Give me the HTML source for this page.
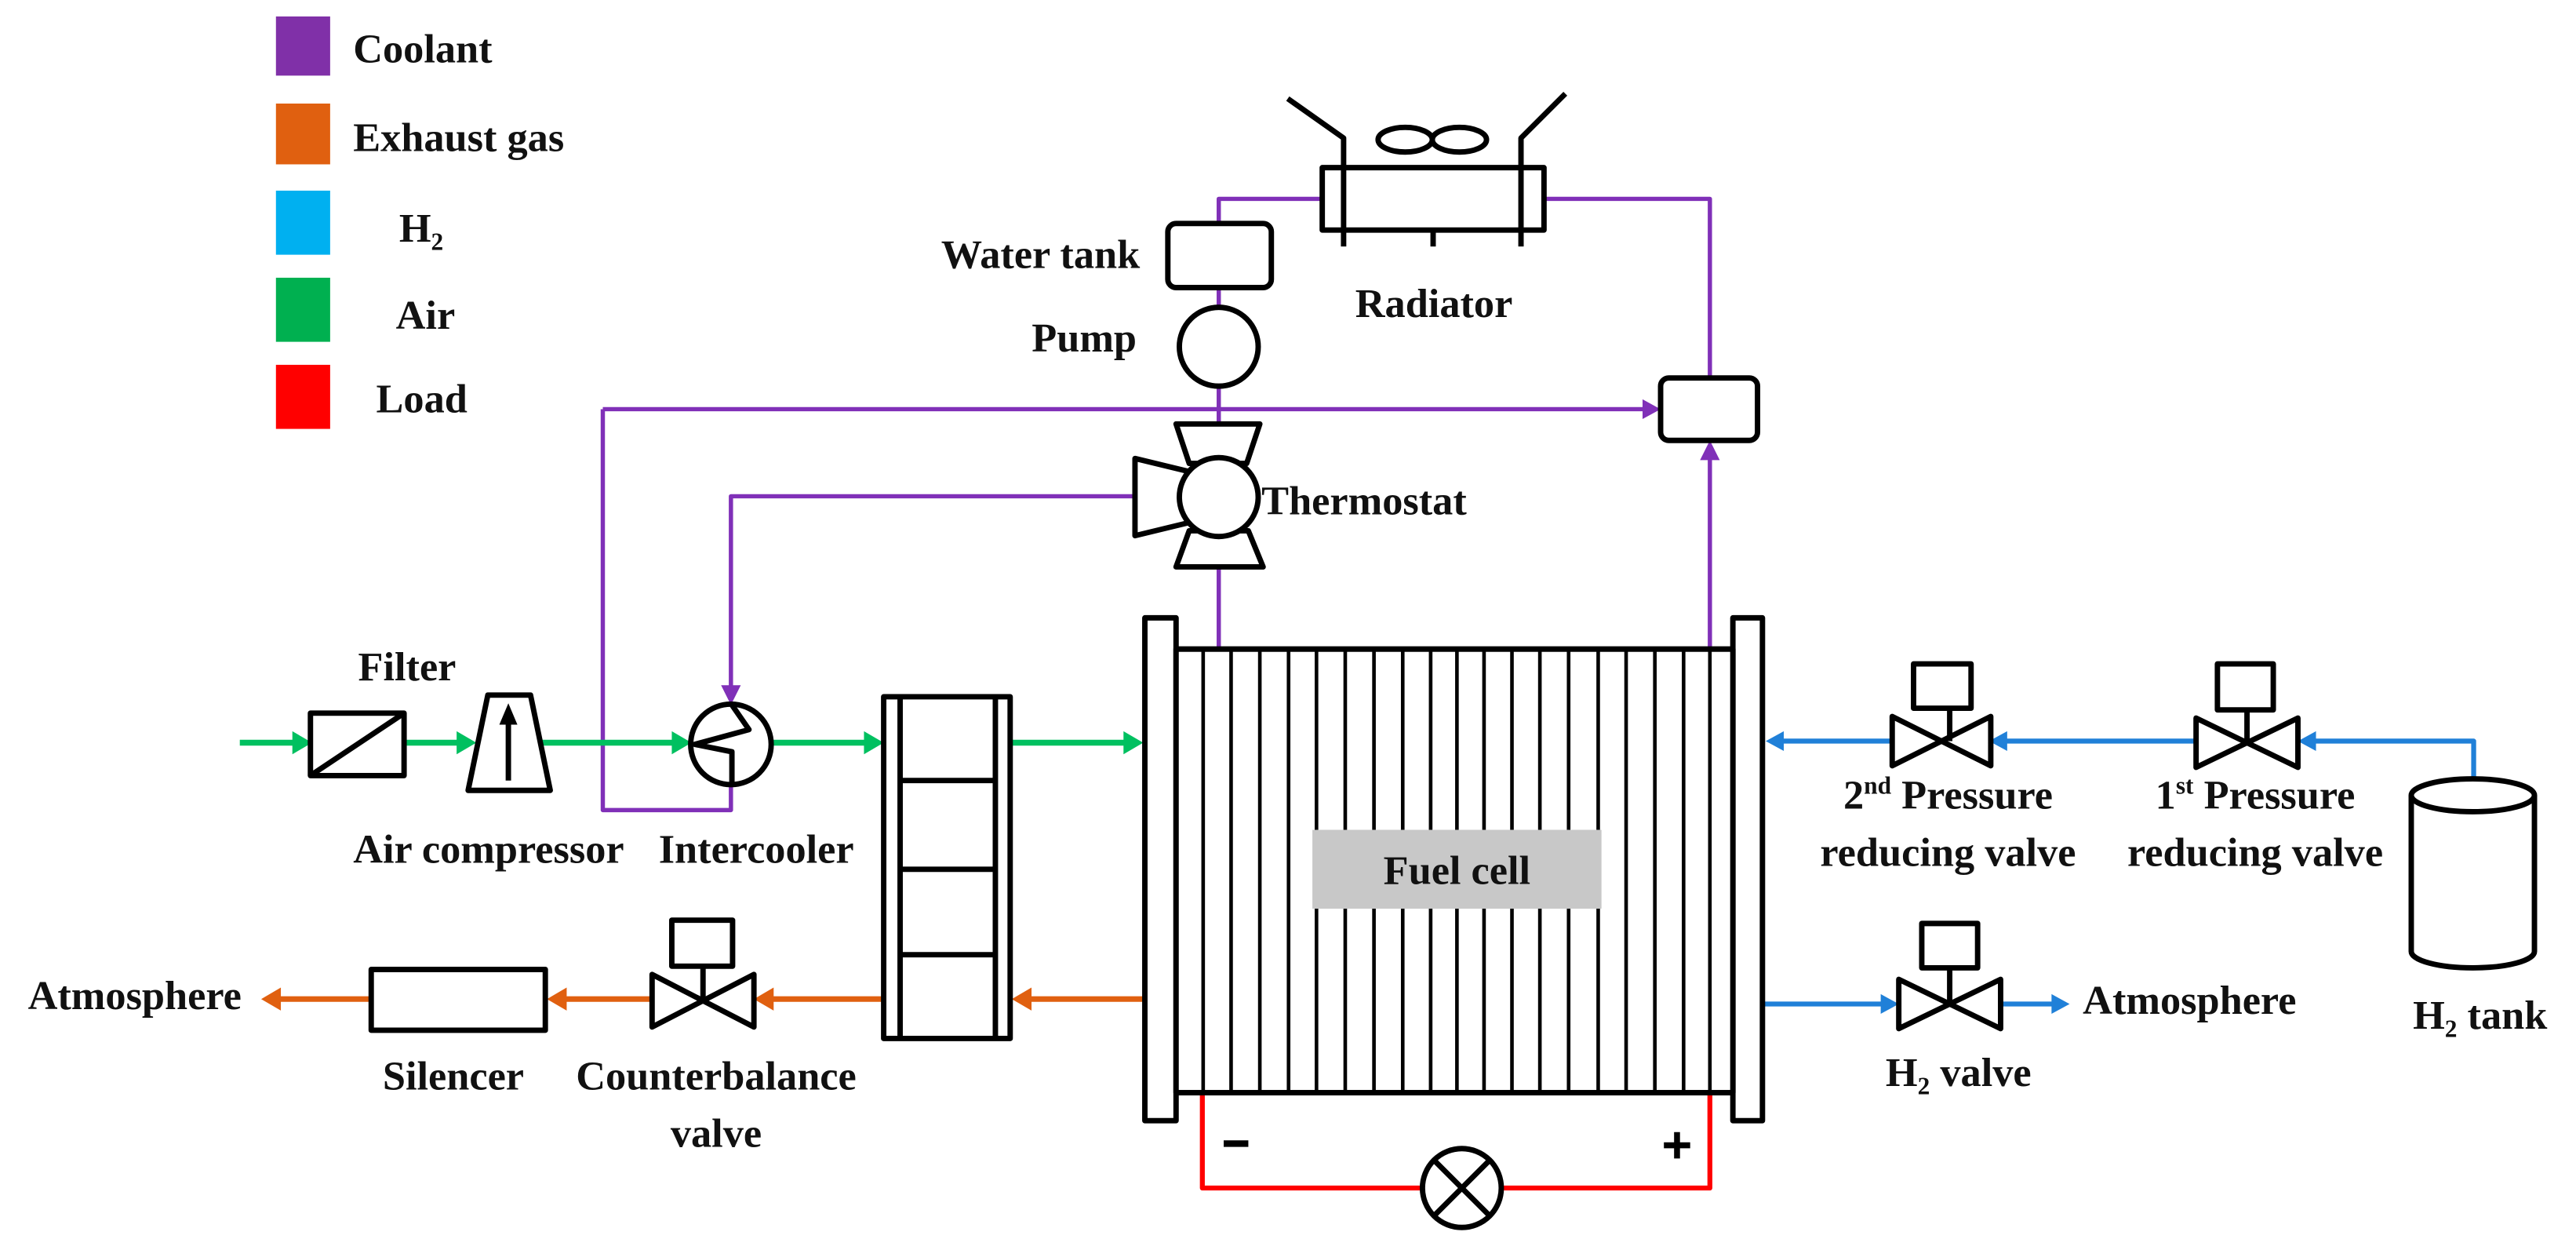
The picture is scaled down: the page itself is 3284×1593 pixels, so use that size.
<!DOCTYPE html>
<html><head><meta charset="utf-8"><style>
html,body{margin:0;padding:0;background:#fff;}
svg{display:block;}
text{font-family:"Liberation Serif",serif;font-weight:bold;font-size:25px;fill:#111;}
</style></head><body>
<svg width="3284" height="1593" viewBox="0 0 1568.3 760.7" xmlns="http://www.w3.org/2000/svg">
<rect width="1568.3" height="760.7" fill="#fff"/>
<!-- legend -->
<rect x="168" y="10" width="33" height="36" fill="#8030a8"/>
<rect x="168" y="63" width="33" height="37" fill="#e06010"/>
<rect x="168" y="116" width="33" height="39" fill="#00b0f0"/>
<rect x="168" y="169" width="33" height="39" fill="#00b050"/>
<rect x="168" y="222" width="33" height="39" fill="#ff0000"/>
<text x="215" y="38">Coolant</text>
<text x="215" y="92">Exhaust gas</text>
<text x="243" y="147">H<tspan font-size="15" dy="5">2</tspan></text>
<text x="241" y="200">Air</text>
<text x="229" y="251">Load</text>

<g fill="none" stroke-linejoin="round">
<g stroke="#8030b8" stroke-width="2.6">
<polyline points="742,395 742,121 805,121"/>
<polyline points="940,121 1041,121 1041,230"/>
<polyline points="1041,395 1041,278"/>
<polyline points="367,249 367,493 445,493 445,478"/>
<polyline points="367,249 1002,249"/>
<polyline points="691,302 445,302 445,421"/>
</g>
<g fill="#8030b8">
<polygon points="1011,249 1000,243 1000,255"/>
<polygon points="1041,268 1035,280 1047,280"/>
<polygon points="445,429 439,417 451,417"/>
</g>
<g stroke="#00c060" stroke-width="3.6">
<line x1="146" y1="452" x2="182" y2="452"/>
<line x1="246" y1="452" x2="280" y2="452"/>
<line x1="330" y1="452" x2="413" y2="452"/>
<line x1="470" y1="452" x2="530" y2="452"/>
<line x1="615" y1="452" x2="688" y2="452"/>
</g>
<g fill="#00c060">
<polygon points="190,452 178,445 178,459"/>
<polygon points="290,452 278,445 278,459"/>
<polygon points="421,452 409,445 409,459"/>
<polygon points="538,452 526,445 526,459"/>
<polygon points="696,452 684,445 684,459"/>
</g>
<g stroke="#e06010" stroke-width="3.4">
<line x1="696" y1="608" x2="624" y2="608"/>
<line x1="537" y1="608" x2="466" y2="608"/>
<line x1="397" y1="608" x2="340" y2="608"/>
<line x1="225" y1="608" x2="166" y2="608"/>
</g>
<g fill="#e06010">
<polygon points="616,608 628,601 628,615"/>
<polygon points="459,608 471,601 471,615"/>
<polygon points="333,608 345,601 345,615"/>
<polygon points="159,608 171,601 171,615"/>
</g>
<g stroke="#2080d8" stroke-width="3">
<polyline points="1506,474 1506,451 1407,451"/>
<line x1="1336" y1="451" x2="1219" y2="451"/>
<line x1="1152" y1="451" x2="1083" y2="451"/>
<line x1="1073" y1="611" x2="1148" y2="611"/>
<line x1="1218" y1="611" x2="1252" y2="611"/>
</g>
<g fill="#2080d8">
<polygon points="1399,451 1410,445 1410,457"/>
<polygon points="1211,451 1222,445 1222,457"/>
<polygon points="1075,451 1086,445 1086,457"/>
<polygon points="1156,611 1145,605 1145,617"/>
<polygon points="1260,611 1249,605 1249,617"/>
</g>
<polyline points="732,665 732,723 866,723" stroke="#ff0000" stroke-width="3"/>
<polyline points="914,723 1041,723 1041,665" stroke="#ff0000" stroke-width="3"/>

<g stroke="#000" stroke-width="3.3">
<rect x="711" y="136" width="63" height="39" rx="5" fill="#fff"/>
<ellipse cx="742" cy="211" rx="24" ry="24" fill="#fff"/>
<rect x="805" y="102" width="135" height="38" fill="#fff"/>
<line x1="818" y1="102" x2="818" y2="150"/>
<line x1="926" y1="102" x2="926" y2="150"/>
<line x1="872.5" y1="140" x2="872.5" y2="150"/>
<polyline points="818,102 818,84 784,60"/>
<polyline points="926,102 926,84 953,57"/>
<ellipse cx="855.5" cy="85" rx="16.5" ry="7.5"/>
<ellipse cx="888.5" cy="85" rx="16.5" ry="7.5"/>
<rect x="1011" y="230" width="59" height="38" rx="5" fill="#fff"/>
<polygon points="716,258 767,258 759,282 724,282" fill="#fff"/>
<polygon points="724,323 760,323 769,345 716,345" fill="#fff"/>
<polygon points="691,279 724,287 724,318 691,326" fill="#fff"/>
<circle cx="742" cy="302.5" r="24" fill="#fff"/>
<rect x="189" y="434" width="57" height="38" fill="#fff"/>
<line x1="189" y1="472" x2="246" y2="434"/>
<polygon points="297,423 323,423 335,481 285,481" fill="#fff"/>
<line x1="309.5" y1="475" x2="309.5" y2="440"/>
<ellipse cx="445" cy="453" rx="24.5" ry="24.5" fill="#fff"/>
<polyline points="445.6,429 456,444 423,453 445.6,457.5 445.6,478"/>
<rect x="538" y="424" width="77" height="208" fill="#fff"/>
<line x1="548" y1="424" x2="548" y2="632"/>
<line x1="606" y1="424" x2="606" y2="632"/>
<line x1="548" y1="475" x2="606" y2="475"/>
<line x1="548" y1="529" x2="606" y2="529"/>
<line x1="548" y1="581" x2="606" y2="581"/>
<polygon points="397,593 459,625 459,593 397,625" fill="#fff"/>
<rect x="409" y="560" width="37" height="28" fill="#fff"/>
<line x1="428" y1="588" x2="428" y2="609"/>
<rect x="226" y="590" width="106" height="37" fill="#fff"/>
<rect x="697" y="376" width="19" height="306" fill="#fff"/>
<rect x="1055" y="376" width="18" height="306" fill="#fff"/>
<rect x="716" y="395" width="339" height="270" fill="#fff"/>
</g>
<polygon points="309.5,428 304,441 315,441" fill="#000"/>
<g stroke="#000" stroke-width="2.2">
<line x1="732.5" y1="395" x2="732.5" y2="665"/><line x1="749.5" y1="395" x2="749.5" y2="665"/>
<line x1="767" y1="395" x2="767" y2="665"/><line x1="784.5" y1="395" x2="784.5" y2="665"/>
<line x1="801.5" y1="395" x2="801.5" y2="665"/><line x1="819" y1="395" x2="819" y2="665"/>
<line x1="836.5" y1="395" x2="836.5" y2="665"/><line x1="854" y1="395" x2="854" y2="665"/>
<line x1="871" y1="395" x2="871" y2="665"/><line x1="887" y1="395" x2="887" y2="665"/>
<line x1="903.5" y1="395" x2="903.5" y2="665"/><line x1="920.5" y1="395" x2="920.5" y2="665"/>
<line x1="937.5" y1="395" x2="937.5" y2="665"/><line x1="955" y1="395" x2="955" y2="665"/>
<line x1="973" y1="395" x2="973" y2="665"/><line x1="990" y1="395" x2="990" y2="665"/>
<line x1="1007.5" y1="395" x2="1007.5" y2="665"/><line x1="1025" y1="395" x2="1025" y2="665"/>
<line x1="1041" y1="395" x2="1041" y2="665"/>
</g>
<g stroke="#000" stroke-width="3.3">
<line x1="716" y1="395" x2="1055" y2="395"/>
<line x1="716" y1="665" x2="1055" y2="665"/>
<polygon points="1152,436 1212,466 1212,436 1152,466" fill="#fff"/>
<rect x="1165" y="404" width="35" height="27" fill="#fff"/>
<line x1="1187" y1="431" x2="1187" y2="451"/>
<polygon points="1337,437 1399,467 1399,437 1337,467" fill="#fff"/>
<rect x="1350" y="404" width="34" height="28" fill="#fff"/>
<line x1="1368" y1="432" x2="1368" y2="452"/>
<polygon points="1156,596 1218,626 1218,596 1156,626" fill="#fff"/>
<rect x="1170" y="562" width="34" height="27" fill="#fff"/>
<line x1="1187" y1="589" x2="1187" y2="611"/>
<path d="M1468,484 L1468,579 A37.5,10 0 0 0 1543,579 L1543,484" fill="#fff"/>
<ellipse cx="1505.5" cy="484" rx="37.5" ry="10" fill="#fff"/>
<circle cx="890" cy="723" r="24" fill="#fff"/>
<line x1="873" y1="706" x2="907" y2="740"/>
<line x1="907" y1="706" x2="873" y2="740"/>
<!-- minus / plus -->
<line x1="745" y1="696" x2="760" y2="696" stroke-width="4"/>
<line x1="1013" y1="697" x2="1029" y2="697" stroke-width="3.6"/>
<line x1="1021" y1="689" x2="1021" y2="705" stroke-width="3.6"/>
</g>
</g>
<rect x="799" y="505" width="176" height="48" fill="#c8c8c8"/>
<text x="887" y="538" text-anchor="middle">Fuel cell</text>

<text x="694" y="163" text-anchor="end">Water tank</text>
<text x="692" y="214" text-anchor="end">Pump</text>
<text x="873" y="193" text-anchor="middle">Radiator</text>
<text x="768" y="313">Thermostat</text>
<text x="218" y="414">Filter</text>
<text x="215" y="525">Air compressor</text>
<text x="401" y="525">Intercooler</text>
<text x="17" y="614">Atmosphere</text>
<text x="276" y="663" text-anchor="middle">Silencer</text>
<text x="436" y="663" text-anchor="middle">Counterbalance</text>
<text x="436" y="698" text-anchor="middle">valve</text>
<text x="1186" y="492" text-anchor="middle">2<tspan font-size="15" dy="-9">nd</tspan><tspan dy="9"> Pressure</tspan></text>
<text x="1186" y="527" text-anchor="middle">reducing valve</text>
<text x="1373" y="492" text-anchor="middle">1<tspan font-size="15" dy="-9">st</tspan><tspan dy="9"> Pressure</tspan></text>
<text x="1373" y="527" text-anchor="middle">reducing valve</text>
<text x="1268" y="617">Atmosphere</text>
<text x="1148" y="661">H<tspan font-size="15" dy="5">2</tspan><tspan dy="-5"> valve</tspan></text>
<text x="1469" y="626">H<tspan font-size="15" dy="5">2</tspan><tspan dy="-5"> tank</tspan></text>
</svg>
</body></html>
